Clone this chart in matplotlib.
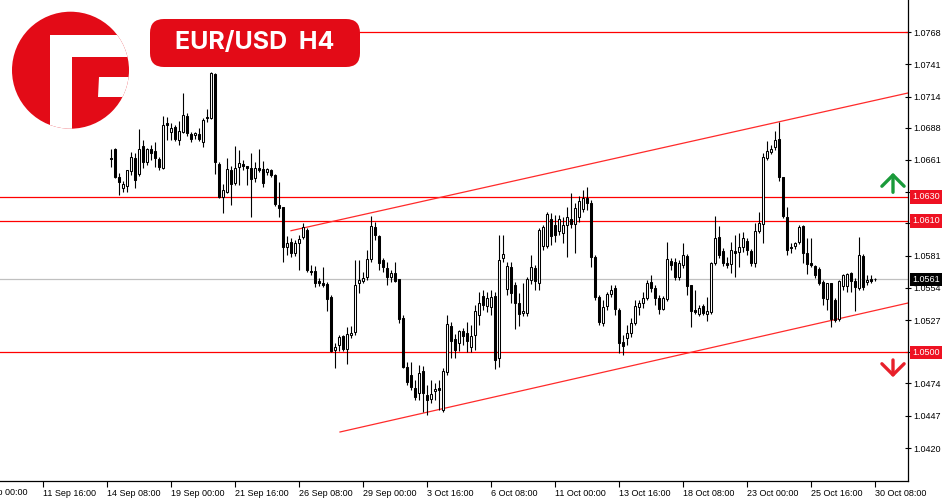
import numpy as np
import matplotlib
matplotlib.use("Agg")
import matplotlib.pyplot as plt
import matplotlib.transforms as mtransforms
from matplotlib.patches import Circle, Polygon, FancyBboxPatch

# EUR/USD H4 candles, 14 Sep 12:00 .. 30 Oct 08:00
opens = [1.06626, 1.06702, 1.06467, 1.06375, 1.06392, 1.06518, 1.06626, 1.06493, 1.06727, 1.06593,
         1.06702, 1.06685, 1.06618, 1.06543, 1.06919, 1.06843, 1.06885, 1.06777, 1.06843, 1.06978,
         1.06827, 1.06818, 1.06827, 1.06760, 1.06969, 1.06961, 1.07329, 1.06577, 1.06300, 1.06341,
         1.06526, 1.06417, 1.06551, 1.06577, 1.06560, 1.06543, 1.06459, 1.06543, 1.06535, 1.06509,
         1.06526, 1.06484, 1.06233, 1.06216, 1.05881, 1.05923, 1.05831, 1.05915, 1.05965, 1.06024,
         1.05681, 1.05681, 1.05598, 1.05581, 1.05572, 1.05463, 1.05020, 1.05062, 1.05137, 1.05029,
         1.05146, 1.05171, 1.05581, 1.05598, 1.05631, 1.05781, 1.06049, 1.05974, 1.05773, 1.05706,
         1.05631, 1.05664, 1.05614, 1.05288, 1.04878, 1.04811, 1.04702, 1.04660, 1.04844, 1.04643,
         1.04610, 1.04677, 1.04702, 1.04518, 1.04836, 1.05221, 1.05112, 1.05079, 1.05179, 1.05162,
         1.05045, 1.05146, 1.05313, 1.05471, 1.05388, 1.05380, 1.05471, 1.04953, 1.05789, 1.05530,
         1.05714, 1.05564, 1.05413, 1.05330, 1.05330, 1.05606, 1.05706, 1.05581, 1.05889, 1.05889,
         1.06116, 1.06066, 1.06015, 1.05999, 1.06066, 1.06116, 1.06074, 1.06132, 1.06199, 1.06292,
         1.06250, 1.05798, 1.05463, 1.05246, 1.05388, 1.05488, 1.05539, 1.05355, 1.05087, 1.05121,
         1.05162, 1.05246, 1.05380, 1.05413, 1.05455, 1.05589, 1.05539, 1.05455, 1.05363, 1.05446,
         1.05765, 1.05756, 1.05631, 1.05731, 1.05806, 1.05564, 1.05355, 1.05321, 1.05388, 1.05321,
         1.05338, 1.05748, 1.05965, 1.05848, 1.05748, 1.05740, 1.05848, 1.05840, 1.05881, 1.05932,
         1.05848, 1.05748, 1.06015, 1.06074, 1.06626, 1.06676, 1.06718, 1.06785, 1.06467, 1.06132,
         1.05881, 1.05889, 1.05923, 1.06057, 1.05831, 1.05748, 1.05723, 1.05697, 1.05589, 1.05446,
         1.05581, 1.05438, 1.05279, 1.05556, 1.05556, 1.05664, 1.05598, 1.05539, 1.05806, 1.05589,
         1.05614, 1.05618]
highs = [1.06702, 1.06710, 1.06501, 1.06434, 1.06526, 1.06676, 1.06668, 1.06869, 1.06777, 1.06710,
         1.06735, 1.06760, 1.06634, 1.06978, 1.06969, 1.06919, 1.06902, 1.06936, 1.07170, 1.07003,
         1.06843, 1.06843, 1.06877, 1.06961, 1.07036, 1.07345, 1.07337, 1.06593, 1.06409, 1.06626,
         1.06560, 1.06727, 1.06693, 1.06610, 1.06560, 1.06668, 1.06593, 1.06702, 1.06602, 1.06543,
         1.06535, 1.06493, 1.06425, 1.06216, 1.05974, 1.05957, 1.05940, 1.05982, 1.06082, 1.06041,
         1.05731, 1.05723, 1.05622, 1.05714, 1.05589, 1.05479, 1.05079, 1.05146, 1.05146, 1.05212,
         1.05221, 1.05773, 1.05773, 1.05672, 1.05856, 1.06141, 1.06091, 1.05982, 1.05789, 1.05756,
         1.05689, 1.05756, 1.05614, 1.05313, 1.04919, 1.04919, 1.04769, 1.04894, 1.04886, 1.04727,
         1.04769, 1.04744, 1.04769, 1.04869, 1.05313, 1.05254, 1.05154, 1.05187, 1.05204, 1.05254,
         1.05229, 1.05396, 1.05505, 1.05522, 1.05505, 1.05522, 1.05505, 1.05982, 1.05982, 1.05756,
         1.05756, 1.05589, 1.05497, 1.05581, 1.05631, 1.05814, 1.05731, 1.06041, 1.06066, 1.06174,
         1.06166, 1.06149, 1.06149, 1.06132, 1.06216, 1.06333, 1.06250, 1.06308, 1.06358, 1.06383,
         1.06275, 1.05814, 1.05479, 1.05438, 1.05505, 1.05564, 1.05564, 1.05371, 1.05146, 1.05229,
         1.05288, 1.05438, 1.05438, 1.05505, 1.05606, 1.05647, 1.05564, 1.05479, 1.05471, 1.05923,
         1.05789, 1.05789, 1.05773, 1.05915, 1.05823, 1.05564, 1.05522, 1.05396, 1.05405, 1.05463,
         1.05756, 1.06141, 1.06057, 1.05873, 1.05798, 1.05923, 1.05982, 1.05999, 1.06007, 1.05957,
         1.05865, 1.06082, 1.06174, 1.06668, 1.06769, 1.06735, 1.06852, 1.06927, 1.06467, 1.06216,
         1.05915, 1.05923, 1.06066, 1.06066, 1.05957, 1.05957, 1.05731, 1.05714, 1.05606, 1.05581,
         1.05581, 1.05455, 1.05606, 1.05656, 1.05664, 1.05672, 1.05622, 1.05965, 1.05823, 1.05647,
         1.05647, 1.05625]
lows = [1.06551, 1.06459, 1.06316, 1.06341, 1.06341, 1.06484, 1.06375, 1.06476, 1.06543, 1.06568,
        1.06610, 1.06551, 1.06526, 1.06535, 1.06777, 1.06777, 1.06769, 1.06735, 1.06835, 1.06810,
        1.06760, 1.06785, 1.06769, 1.06718, 1.06927, 1.06952, 1.06493, 1.06292, 1.06166, 1.06333,
        1.06233, 1.06400, 1.06400, 1.06526, 1.06400, 1.06132, 1.06425, 1.06509, 1.06383, 1.06484,
        1.06467, 1.06225, 1.06132, 1.05756, 1.05814, 1.05798, 1.05806, 1.05689, 1.05949, 1.05672,
        1.05647, 1.05547, 1.05556, 1.05547, 1.05347, 1.05003, 1.04869, 1.05012, 1.05012, 1.04903,
        1.05121, 1.05146, 1.05497, 1.05581, 1.05606, 1.05756, 1.05940, 1.05689, 1.05672, 1.05564,
        1.05589, 1.05589, 1.05246, 1.04869, 1.04727, 1.04685, 1.04602, 1.04602, 1.04501, 1.04476,
        1.04577, 1.04602, 1.04518, 1.04501, 1.04811, 1.04953, 1.04953, 1.05012, 1.05062, 1.05003,
        1.05003, 1.05020, 1.05229, 1.05355, 1.05338, 1.05313, 1.04861, 1.04878, 1.05756, 1.05479,
        1.05413, 1.05196, 1.05221, 1.05304, 1.05304, 1.05572, 1.05522, 1.05522, 1.05856, 1.05873,
        1.05898, 1.05923, 1.05982, 1.05915, 1.05798, 1.06041, 1.05831, 1.06091, 1.06174, 1.06191,
        1.05714, 1.05438, 1.05229, 1.05221, 1.05355, 1.05463, 1.05313, 1.04995, 1.04978, 1.05062,
        1.05129, 1.05229, 1.05313, 1.05371, 1.05438, 1.05505, 1.05396, 1.05321, 1.05355, 1.05430,
        1.05689, 1.05606, 1.05606, 1.05706, 1.05479, 1.05212, 1.05321, 1.05304, 1.05313, 1.05263,
        1.05321, 1.05731, 1.05789, 1.05723, 1.05706, 1.05664, 1.05631, 1.05714, 1.05840, 1.05814,
        1.05723, 1.05714, 1.05999, 1.05915, 1.06610, 1.06660, 1.06693, 1.06434, 1.06124, 1.05814,
        1.05831, 1.05865, 1.05907, 1.05748, 1.05656, 1.05714, 1.05622, 1.05564, 1.05396, 1.05355,
        1.05212, 1.05254, 1.05263, 1.05522, 1.05505, 1.05505, 1.05347, 1.05522, 1.05522, 1.05564,
        1.05581, 1.05600]
closes = [1.06618, 1.06467, 1.06425, 1.06409, 1.06526, 1.06634, 1.06442, 1.06702, 1.06593, 1.06702,
          1.06668, 1.06626, 1.06551, 1.06902, 1.06902, 1.06877, 1.06785, 1.06852, 1.06986, 1.06835,
          1.06785, 1.06835, 1.06785, 1.06944, 1.06961, 1.07337, 1.06593, 1.06300, 1.06358, 1.06535,
          1.06409, 1.06543, 1.06585, 1.06560, 1.06543, 1.06451, 1.06543, 1.06526, 1.06417, 1.06535,
          1.06484, 1.06241, 1.06208, 1.05881, 1.05915, 1.05831, 1.05915, 1.05949, 1.06049, 1.05689,
          1.05672, 1.05581, 1.05581, 1.05564, 1.05446, 1.05012, 1.05045, 1.05129, 1.05029, 1.05154,
          1.05162, 1.05564, 1.05606, 1.05622, 1.05781, 1.06057, 1.05982, 1.05748, 1.05714, 1.05631,
          1.05664, 1.05598, 1.05279, 1.04878, 1.04752, 1.04710, 1.04627, 1.04827, 1.04660, 1.04602,
          1.04652, 1.04694, 1.04685, 1.04844, 1.05238, 1.05095, 1.05020, 1.05179, 1.05137, 1.05095,
          1.05137, 1.05347, 1.05413, 1.05396, 1.05455, 1.05463, 1.04936, 1.05773, 1.05823, 1.05723,
          1.05497, 1.05413, 1.05321, 1.05347, 1.05614, 1.05714, 1.05598, 1.06024, 1.06049, 1.06158,
          1.05974, 1.05982, 1.06116, 1.06066, 1.06132, 1.06074, 1.06208, 1.06266, 1.06292, 1.06250,
          1.05798, 1.05463, 1.05254, 1.05380, 1.05488, 1.05522, 1.05363, 1.05079, 1.05054, 1.05162,
          1.05246, 1.05388, 1.05413, 1.05455, 1.05581, 1.05539, 1.05455, 1.05363, 1.05455, 1.05781,
          1.05731, 1.05631, 1.05748, 1.05814, 1.05556, 1.05347, 1.05338, 1.05371, 1.05330, 1.05347,
          1.05748, 1.05957, 1.05814, 1.05748, 1.05731, 1.05856, 1.05831, 1.05881, 1.05957, 1.05856,
          1.05748, 1.06015, 1.06082, 1.06634, 1.06685, 1.06702, 1.06777, 1.06467, 1.06141, 1.05856,
          1.05873, 1.05915, 1.06049, 1.05831, 1.05740, 1.05731, 1.05647, 1.05581, 1.05455, 1.05581,
          1.05279, 1.05271, 1.05598, 1.05647, 1.05656, 1.05598, 1.05547, 1.05814, 1.05547, 1.05606,
          1.05598, 1.05610]

# x axis: candle index of each date label (16 H4 bars apart)
date_labels = ["7 Sep 00:00", "11 Sep 16:00", "14 Sep 08:00", "19 Sep 00:00", "21 Sep 16:00",
               "26 Sep 08:00", "29 Sep 00:00", "3 Oct 16:00", "6 Oct 08:00", "11 Oct 00:00",
               "13 Oct 16:00", "18 Oct 08:00", "23 Oct 00:00", "25 Oct 16:00", "30 Oct 08:00"]
date_idx = [-33, -17, -1, 15, 31, 47, 63, 79, 95, 111, 127, 143, 159, 175, 191]

price_ticks = [1.0420, 1.0447, 1.0474, 1.0500, 1.0527, 1.0554, 1.0581, 1.0608,
               1.0634, 1.0661, 1.0688, 1.0714, 1.0741, 1.0768]
hidden_ticks = [1.0608]  # fully covered by the 1.0610 tag in the original
levels = [1.0630, 1.0610, 1.0500]
top_level = 1.0768
last_price = 1.0561
upper_x, upper_y = [45, 199.25], [1.06018, 1.07170]
lower_x, lower_y = [57.25, 199.25], [1.04334, 1.05413]

RED = "#e30b17"
LINE_RED = "#ff0000"
TICK_FONT = "Liberation Sans"

fig = plt.figure(figsize=(9.5, 5), dpi=100)
ax = fig.add_axes([0, 19 / 500, 908 / 950, 481 / 500])

o = np.array(opens)
h = np.array(highs)
l = np.array(lows)
c = np.array(closes)
x = np.arange(len(o))

# wicks then bodies
ax.vlines(x, np.minimum(l, np.minimum(o, c)), np.maximum(h, np.maximum(o, c)),
          color="black", lw=0.8, zorder=3)
up = c >= o
body_lo = np.minimum(o, c)
body_h = np.maximum(np.abs(c - o), 0.000012)
ax.bar(x[up], body_h[up], bottom=body_lo[up], width=0.7, color="white",
       edgecolor="black", linewidth=0.75, zorder=4)
ax.bar(x[~up], body_h[~up], bottom=body_lo[~up], width=0.7, color="black",
       edgecolor="black", linewidth=0.75, zorder=4)

# levels
for lv in levels:
    ax.axhline(lv, color=LINE_RED, lw=0.9, zorder=2)
ax.axhline(top_level, xmin=358 / 908, color=LINE_RED, lw=0.9, zorder=2)
ax.axhline(last_price, color="#c0c0c0", lw=0.9, zorder=1)
ax.plot(upper_x, upper_y, color="#ff2a2a", lw=0.9, zorder=2)
ax.plot(lower_x, lower_y, color="#ff2a2a", lw=0.9, zorder=2)

ax.set_xlim(-27.75, 199.25)
ax.set_ylim(1.03924, 1.07948)

for s in ["top", "left"]:
    ax.spines[s].set_visible(False)
ax.spines["right"].set_linewidth(0.9)
ax.spines["bottom"].set_linewidth(0.9)

ax.yaxis.tick_right()
ax.set_yticks(price_ticks)
ax.set_yticklabels(["" if v in hidden_ticks else f"{v:.4f}" for v in price_ticks],
                   fontsize=6.5, family=TICK_FONT)
ax.tick_params(axis="y", direction="inout", length=4, width=0.8, pad=2)

ax.set_xticks(date_idx[1:])
ax.set_xticklabels(date_labels[1:], fontsize=6.5, family=TICK_FONT)
ax.tick_params(axis="x", direction="out", length=4, width=0.8, pad=2)
for lab in ax.get_xticklabels():
    lab.set_ha("left")
# first label sits left of the view, cut by the figure edge
ax.text(date_idx[0], -0.0145, date_labels[0],
        transform=mtransforms.blended_transform_factory(ax.transData, ax.transAxes),
        ha="left", va="top", fontsize=6.5, family=TICK_FONT, clip_on=False)

# price tags on the scale
trans = mtransforms.blended_transform_factory(ax.transAxes, ax.transData)
for lv in levels:
    ax.text(1.005, lv, f"{lv:.4f}", transform=trans, ha="left", va="center", color="white",
            fontsize=6.5, family=TICK_FONT, clip_on=False, zorder=10,
            bbox=dict(boxstyle="square,pad=0.25", fc="#ee1122", ec="none"))
ax.text(1.005, last_price, f"{last_price:.4f}", transform=trans, ha="left", va="center", color="white",
        fontsize=6.5, family=TICK_FONT, clip_on=False, zorder=10,
        bbox=dict(boxstyle="square,pad=0.25", fc="black", ec="none"))

# arrows
ax.annotate("", xy=(195.5, 1.06526), xytext=(195.5, 1.06316), annotation_clip=False,
            arrowprops=dict(arrowstyle="->,head_length=0.8,head_width=0.8", color="#1a9a3a", lw=2.4))
ax.annotate("", xy=(195.5, 1.04769), xytext=(195.5, 1.04960), annotation_clip=False,
            arrowprops=dict(arrowstyle="->,head_length=0.8,head_width=0.8", color="#e8202a", lw=2.4))

# logo + title badge (pixel coordinates)
ov = fig.add_axes([0, 0, 1, 1], zorder=5)
ov.set_xlim(0, 950)
ov.set_ylim(500, 0)
ov.axis("off")
circ = Circle((70.5, 70.2), 58.5, fc=RED, ec="none")
ov.add_patch(circ)
cutouts = [
    [(49.5, 34.5), (145, 34.5), (145, 57), (71.7, 57), (71.7, 145), (49.5, 145)],
    [(98.5, 77.3), (145, 77.3), (145, 97.3), (97.5, 97.3)],
]
for pts in cutouts:
    p = Polygon(pts, closed=True, fc="white", ec="none")
    ov.add_patch(p)
    p.set_clip_path(circ)

badge = FancyBboxPatch((150, 19), 210, 48, boxstyle="round,pad=0,rounding_size=14",
                       fc=RED, ec="none")
ov.add_patch(badge)
ov.text(255, 43, "EUR/USD  H4", ha="center", va="center", color="white",
        fontsize=18, fontweight="bold", family="Inter")

fig.savefig("out.png", dpi=100)
